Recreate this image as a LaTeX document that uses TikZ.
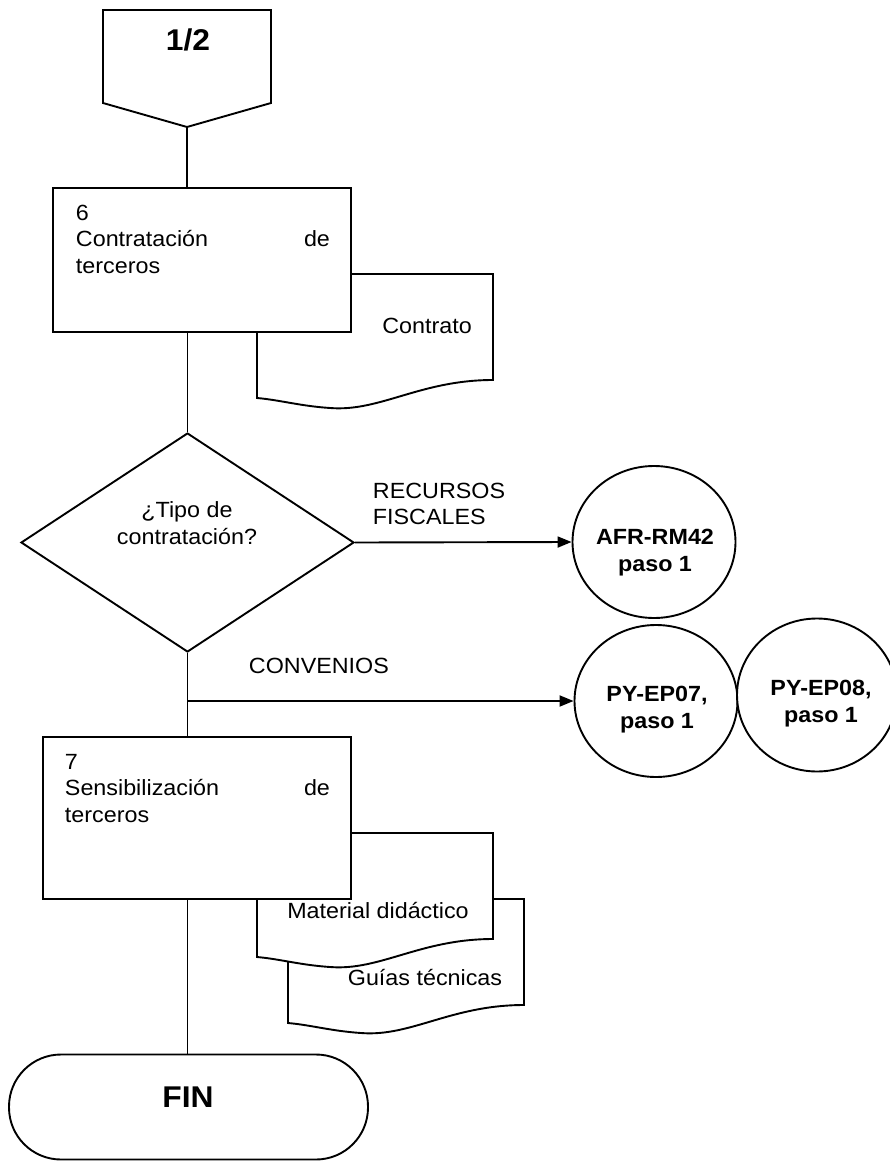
\documentclass[tikz,border=0pt]{standalone}
\usepackage{fontspec}
\setmainfont[FakeStretch=1.06]{Liberation Sans}
\usetikzlibrary{shapes.geometric,arrows.meta}

\tikzset{
  lbl/.style={inner sep=0pt, font=\fontsize{22}{26.5}\selectfont},
  boldlbl/.style={inner sep=0pt, font=\bfseries\fontsize{22}{27}\selectfont},
  bigbold/.style={inner sep=0pt, font=\bfseries\fontsize{30}{34}\selectfont},
  procbox/.style={draw, fill=white, rectangle, inner sep=0pt},
  decision/.style={draw, fill=white, diamond, inner sep=0pt, aspect=1.5},
  refcircle/.style={draw, fill=white, ellipse, inner sep=0pt},
  terminal/.style={draw, fill=white, rectangle, rounded corners=52pt, inner sep=0pt},
  flow/.style={-{Triangle[length=14pt,width=11pt]}},
  docpaper/.style={draw, fill=white, line join=miter},
  pics/docsheet/.style={code={
    \draw[docpaper] (0,0) -- (236,0) -- (236,106)
      .. controls (163,106) and (123,138) .. (73,134)
      .. controls (43,132) and (23,126) .. (0,124) -- cycle;
  }}
}

\begin{document}
\begin{tikzpicture}[x=1pt,y=-1pt,line width=1.9pt]
\useasboundingbox (0,0) rectangle (890,1161);

% off-page connector 1/2
\draw[fill=white, line join=miter] (103,10) -- (271,10) -- (271,103) -- (187,127) -- (103,103) -- cycle;
\coordinate (tip) at (187,127);
\node[bigbold, anchor=base] (pg) at (188,51) {1/2};

% step 6 with its output document
\pic at (257,274) {docsheet};
\node[lbl, anchor=base] (contrato) at (427,333) {Contrato};
\node[procbox, minimum width=298pt, minimum height=144pt] (box6) at (202,260) {};
\node[lbl, anchor=north west, text width=254pt, align=left] (t6) at (75,204)
  {6\\Contratación\hskip 0pt plus 1filll de\\terceros};

% decision
\node[decision, minimum width=333pt, minimum height=219pt] (dia) at (187.5,542.5) {};
\node[lbl, anchor=north, align=center] (q) at (187,501) {¿Tipo de\\contratación?};

% referenced procedures
\node[refcircle, minimum width=163pt, minimum height=152pt] (afr) at (654,542) {};
\node[boldlbl, anchor=north, align=center] (afrt) at (655,528) {AFR-RM42\\paso 1};
\node[refcircle, minimum width=163pt, minimum height=152pt] (py07) at (656,701) {};
\node[boldlbl, anchor=north, align=center] (py07t) at (657,685) {PY-EP07,\\paso 1};
\node[refcircle, minimum width=160pt, minimum height=153pt] (py08) at (817,695) {};
\node[boldlbl, anchor=north, align=center] (py08t) at (821,679) {PY-EP08,\\paso 1};

% step 7 with its output documents
\pic at (288,899) {docsheet};
\node[lbl, anchor=base] (guias) at (425,985) {Guías técnicas};
\pic at (257,833) {docsheet};
\node[lbl, anchor=base] (material) at (378,918) {Material didáctico};
\node[procbox, minimum width=308pt, minimum height=162pt] (box7) at (197,818) {};
\node[lbl, anchor=north west, text width=265pt, align=left] (t7) at (64,753)
  {7\\Sensibilización\hskip 0pt plus 1filll de\\terceros};

% end
\node[terminal, minimum width=359pt, minimum height=105pt] (fin) at (188.5,1107) {};
\node[bigbold, anchor=base] (fint) at (188,1107) {FIN};

% connectors
\draw (tip) -- (tip |- box6.north);
\draw (box6.south -| dia.north) -- (dia.north);
\draw[flow] (dia.east) -- (afr.west);
\node[lbl, anchor=north west, align=left] (rf) at (372,482) {RECURSOS\\FISCALES};
\draw (dia.south) -- (dia.south |- box7.north);
\coordinate (branch) at (dia.south |- py07.west);
\draw[flow] (branch) -- (py07.west);
\node[lbl, anchor=base west] (conv) at (248,673) {CONVENIOS};
\draw (box7.south -| dia.south) -- (fin.north -| dia.south);
\end{tikzpicture}
\end{document}
